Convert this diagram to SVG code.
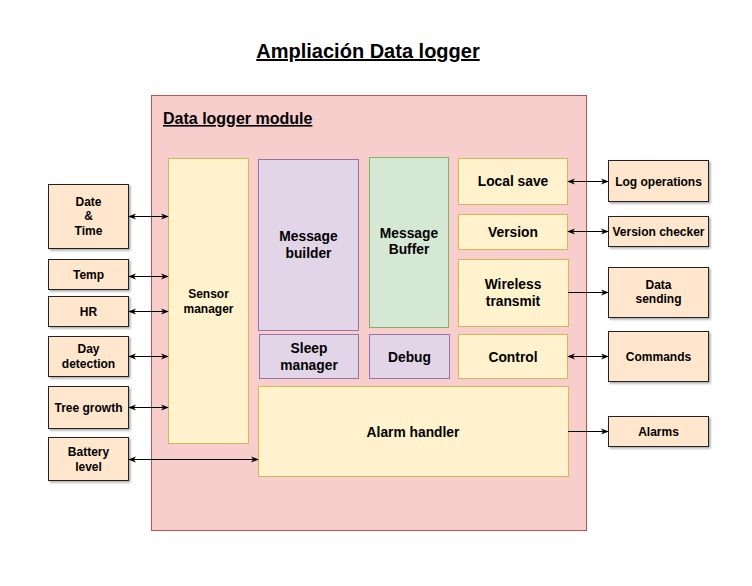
<svg xmlns="http://www.w3.org/2000/svg" width="752" height="586" viewBox="0 0 752 586">
<style>
text{font-family:"Liberation Sans",Arial,sans-serif;font-weight:bold;fill:#000;text-anchor:middle}
.t12{font-size:13.8px}
.t11{font-size:12px}
.yel{fill:#fff2cc;stroke:#d6b656;stroke-width:1}
.pur{fill:#e1d5e7;stroke:#9673a6;stroke-width:1}
.grn{fill:#d5e8d4;stroke:#82b366;stroke-width:1}
.ext{fill:#ffe6cc;stroke:#222;stroke-width:1;filter:url(#sh)}
.c{stroke:#000;stroke-width:1;fill:none}
</style>
<defs>
<filter id="sh" x="-10%" y="-10%" width="130%" height="130%">
<feDropShadow dx="1.5" dy="1.5" stdDeviation="0.8" flood-color="#000" flood-opacity="0.35"/>
</filter>
<marker id="ae" viewBox="0 0 10 8" refX="9" refY="4" markerWidth="8" markerHeight="6.5" orient="auto" markerUnits="userSpaceOnUse">
<path d="M0,0 L10,4 L0,8 L3,4 Z" fill="#000"/>
</marker>
<marker id="as" viewBox="0 0 10 8" refX="1" refY="4" markerWidth="8" markerHeight="6.5" orient="auto" markerUnits="userSpaceOnUse">
<path d="M10,0 L0,4 L10,8 L7,4 Z" fill="#000"/>
</marker>
</defs>
<rect width="752" height="586" fill="#fff"/>
<g id="title">
<text x="368" y="58" style="font-size:20px;text-decoration:underline">Ampliación Data logger</text>
</g>
<g id="module">
<rect x="151.5" y="95.5" width="435" height="435" fill="#f8cecc" stroke="#b85450"/>
<text x="163" y="124" style="font-size:16px;text-anchor:start;text-decoration:underline">Data logger module</text>
</g>
<g id="sensor-manager"><rect class="yel" x="168.5" y="158.5" width="80" height="285"/><text class="t11" x="208.5" y="298">Sensor</text><text class="t11" x="208.5" y="313">manager</text></g>
<g id="message-builder"><rect class="pur" x="258.5" y="159.5" width="100" height="171"/><text class="t12" x="308.5" y="241">Message</text><text class="t12" x="308.5" y="258">builder</text></g>
<g id="message-buffer"><rect class="grn" x="369.5" y="157.5" width="79" height="170"/><text class="t12" x="409" y="238">Message</text><text class="t12" x="409" y="254">Buffer</text></g>
<g id="local-save"><rect class="yel" x="458.5" y="158.5" width="109" height="46"/><text class="t12" x="513" y="186">Local save</text></g>
<g id="version"><rect class="yel" x="458.5" y="214.5" width="109" height="35"/><text class="t12" x="513" y="237">Version</text></g>
<g id="wireless-transmit"><rect class="yel" x="458.5" y="259.5" width="110" height="67"/><text class="t12" x="513" y="289">Wireless</text><text class="t12" x="513" y="306">transmit</text></g>
<g id="control"><rect class="yel" x="458.5" y="334.5" width="109" height="44"/><text class="t12" x="513" y="362">Control</text></g>
<g id="sleep-manager"><rect class="pur" x="259.5" y="334.5" width="99" height="44"/><text class="t12" x="309" y="353">Sleep</text><text class="t12" x="309" y="370">manager</text></g>
<g id="debug"><rect class="pur" x="369.5" y="334.5" width="80" height="44"/><text class="t12" x="409.5" y="362">Debug</text></g>
<g id="alarm-handler"><rect class="yel" x="258.5" y="386.5" width="310" height="90"/><text class="t12" x="413" y="437">Alarm handler</text></g>

<g id="date-time"><rect class="ext" x="48.5" y="184.5" width="80" height="64"/><text class="t11" x="88.5" y="206">Date</text><text class="t11" x="88.5" y="220">&amp;</text><text class="t11" x="88.5" y="235">Time</text></g>
<g id="temp"><rect class="ext" x="48.5" y="259.5" width="80" height="30"/><text class="t11" x="88.5" y="279">Temp</text></g>
<g id="hr"><rect class="ext" x="48.5" y="296.5" width="80" height="30"/><text class="t11" x="88.5" y="316">HR</text></g>
<g id="day-detection"><rect class="ext" x="48.5" y="336.5" width="80" height="40"/><text class="t11" x="88.5" y="353">Day</text><text class="t11" x="88.5" y="368">detection</text></g>
<g id="tree-growth"><rect class="ext" x="48.5" y="386.5" width="80" height="42"/><text class="t11" x="88.5" y="412">Tree growth</text></g>
<g id="battery-level"><rect class="ext" x="48.5" y="437.5" width="80" height="43"/><text class="t11" x="88.5" y="456">Battery</text><text class="t11" x="88.5" y="471">level</text></g>

<g id="log-operations"><rect class="ext" x="608.5" y="160.5" width="100" height="41"/><text class="t11" x="658.5" y="186">Log operations</text></g>
<g id="version-checker"><rect class="ext" x="608.5" y="216.5" width="100" height="30"/><text class="t11" x="658.5" y="236">Version checker</text></g>
<g id="data-sending"><rect class="ext" x="608.5" y="267.5" width="100" height="50"/><text class="t11" x="658.5" y="289">Data</text><text class="t11" x="658.5" y="303">sending</text></g>
<g id="commands"><rect class="ext" x="608.5" y="331.5" width="100" height="50"/><text class="t11" x="658.5" y="361">Commands</text></g>
<g id="alarms"><rect class="ext" x="608.5" y="416.5" width="100" height="30"/><text class="t11" x="658.5" y="436">Alarms</text></g>

<g id="connectors">
<line class="c" x1="129" y1="216.5" x2="168" y2="216.5" marker-start="url(#as)" marker-end="url(#ae)"/>
<line class="c" x1="129" y1="276.5" x2="168" y2="276.5" marker-start="url(#as)" marker-end="url(#ae)"/>
<line class="c" x1="129" y1="311.5" x2="168" y2="311.5" marker-start="url(#as)" marker-end="url(#ae)"/>
<line class="c" x1="129" y1="356.5" x2="168" y2="356.5" marker-start="url(#as)" marker-end="url(#ae)"/>
<line class="c" x1="129" y1="407.5" x2="168" y2="407.5" marker-start="url(#as)" marker-end="url(#ae)"/>
<line class="c" x1="129" y1="459.5" x2="258" y2="459.5" marker-start="url(#as)" marker-end="url(#ae)"/>
<line class="c" x1="568" y1="181.5" x2="608" y2="181.5" marker-start="url(#as)" marker-end="url(#ae)"/>
<line class="c" x1="568" y1="231.5" x2="608" y2="231.5" marker-start="url(#as)" marker-end="url(#ae)"/>
<line class="c" x1="568" y1="292.5" x2="608" y2="292.5" marker-end="url(#ae)"/>
<line class="c" x1="568" y1="356.5" x2="608" y2="356.5" marker-start="url(#as)" marker-end="url(#ae)"/>
<line class="c" x1="568" y1="431.5" x2="608" y2="431.5" marker-end="url(#ae)"/>
</g>
</svg>
